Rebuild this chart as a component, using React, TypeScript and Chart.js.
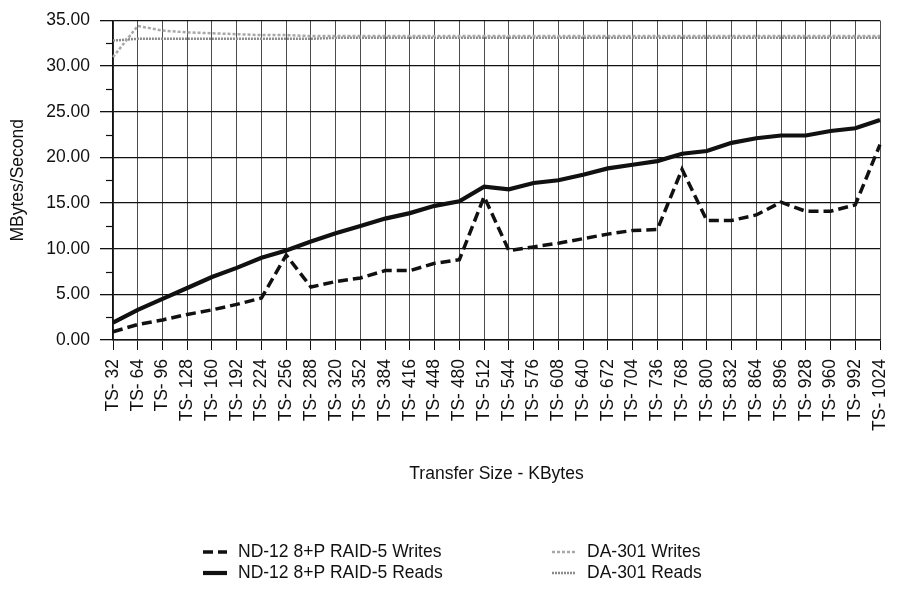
import React, { useEffect, useRef } from "react";
import { Chart, registerables } from "chart.js";

Chart.register(...registerables);

const categories = [
  "TS- 32", "TS- 64", "TS- 96", "TS- 128", "TS- 160", "TS- 192", "TS- 224", "TS- 256",
  "TS- 288", "TS- 320", "TS- 352", "TS- 384", "TS- 416", "TS- 448", "TS- 480", "TS- 512",
  "TS- 544", "TS- 576", "TS- 608", "TS- 640", "TS- 672", "TS- 704", "TS- 736", "TS- 768",
  "TS- 800", "TS- 832", "TS- 864", "TS- 896", "TS- 928", "TS- 960", "TS- 992", "TS- 1024",
];

const ndWrites = [
  0.9, 1.7, 2.2, 2.8, 3.3, 3.9, 4.6, 9.3, 5.8, 6.4, 6.8, 7.6, 7.6, 8.4, 8.8, 15.7,
  9.8, 10.2, 10.6, 11.1, 11.6, 12.0, 12.1, 18.7, 13.1, 13.1, 13.7, 15.1, 14.1, 14.1, 14.8, 21.4,
];

const ndReads = [
  1.9, 3.3, 4.5, 5.7, 6.9, 7.9, 9.0, 9.8, 10.8, 11.7, 12.5, 13.3, 13.9, 14.7, 15.2, 16.8,
  16.5, 17.2, 17.5, 18.1, 18.8, 19.2, 19.6, 20.4, 20.7, 21.6, 22.1, 22.4, 22.4, 22.9, 23.2, 24.1,
];

const daWrites = [
  31.0, 34.4, 33.9, 33.7, 33.6, 33.5, 33.4, 33.4, 33.3, 33.3, 33.3, 33.3, 33.3, 33.3, 33.3, 33.3,
  33.3, 33.3, 33.3, 33.3, 33.3, 33.3, 33.3, 33.3, 33.3, 33.3, 33.3, 33.3, 33.3, 33.3, 33.3, 33.3,
];

const daReads = [
  32.8, 33.0, 33.0, 33.0, 33.0, 33.0, 33.0, 33.0, 33.0, 33.1, 33.1, 33.1, 33.1, 33.1, 33.1, 33.1,
  33.1, 33.1, 33.1, 33.1, 33.1, 33.1, 33.1, 33.1, 33.1, 33.1, 33.1, 33.1, 33.1, 33.1, 33.1, 33.1,
];

const seriesNames = [
  "ND-12 8+P RAID-5 Writes",
  "ND-12 8+P RAID-5 Reads",
  "DA-301 Writes",
  "DA-301 Reads",
];

const yMinorTicks = [2.5, 7.5, 12.5, 17.5, 22.5, 27.5, 32.5];

const FONT = "'Liberation Sans', Arial, Helvetica, sans-serif";
const FS = 17.5;

const legendSlots = [
  { x: 203, y: 552 },
  { x: 203, y: 573 },
  { x: 552, y: 552 },
  { x: 552, y: 573 },
];

const extrasPlugin = {
  id: "extras",
  afterDraw(chart: any) {
    const ctx = chart.ctx;
    const yScale = chart.scales.y;
    ctx.save();
    ctx.strokeStyle = "#111";
    ctx.lineWidth = 1.2;
    yMinorTicks.forEach((v) => {
      const y = Math.round(yScale.getPixelForValue(v)) + 0.5;
      ctx.beginPath();
      ctx.moveTo(yScale.right - 7, y);
      ctx.lineTo(yScale.right, y);
      ctx.stroke();
    });
    ctx.restore();

    ctx.save();
    chart.data.datasets.forEach((ds: any, i: number) => {
      const slot = legendSlots[i];
      ctx.save();
      ctx.strokeStyle = ds.borderColor;
      ctx.lineWidth = ds.borderWidth;
      ctx.setLineDash(ds.borderDash || []);
      ctx.beginPath();
      ctx.moveTo(slot.x, slot.y);
      ctx.lineTo(slot.x + 24, slot.y);
      ctx.stroke();
      ctx.restore();
      ctx.fillStyle = "#111";
      ctx.font = `${FS}px ${FONT}`;
      ctx.textBaseline = "middle";
      ctx.textAlign = "left";
      ctx.fillText(ds.label, slot.x + 35, slot.y);
    });
    ctx.restore();
  },
};

export default function App() {
  const ref = useRef<HTMLCanvasElement | null>(null);

  useEffect(() => {
    if (!ref.current) return;
    const chart = new Chart(ref.current, {
      type: "line",
      data: {
        labels: categories,
        datasets: [
          {
            label: seriesNames[0],
            data: ndWrites,
            borderColor: "#111",
            borderWidth: 3.5,
            borderDash: [10, 5],
            pointRadius: 0,
            tension: 0,
            fill: false,
          },
          {
            label: seriesNames[1],
            data: ndReads,
            borderColor: "#111",
            borderWidth: 4.2,
            pointRadius: 0,
            tension: 0,
            fill: false,
          },
          {
            label: seriesNames[2],
            data: daWrites,
            borderColor: "#a8a8a8",
            borderWidth: 2.5,
            borderDash: [3, 2],
            pointRadius: 0,
            tension: 0,
            fill: false,
          },
          {
            label: seriesNames[3],
            data: daReads,
            borderColor: "#8a8a8a",
            borderWidth: 2.5,
            borderDash: [2, 1],
            pointRadius: 0,
            tension: 0,
            fill: false,
          },
        ],
      },
      options: {
        responsive: false,
        animation: false,
        layout: { padding: { left: 8, right: 14, top: 10, bottom: 107 } },
        plugins: {
          legend: { display: false },
          tooltip: { enabled: false },
        },
        scales: {
          x: {
            type: "category",
            offset: false,
            afterFit: (s: any) => {
              s.height = 145;
            },
            grid: {
              color: "rgba(0,0,0,0.7)",
              lineWidth: 1,
              tickLength: 10,
              tickColor: "#111",
            },
            border: { display: true, color: "#111", width: 1.5 },
            ticks: {
              autoSkip: false,
              maxRotation: 90,
              minRotation: 90,
              padding: 9,
              color: "#111",
              font: { family: FONT, size: FS },
            },
            title: {
              display: true,
              text: "Transfer Size - KBytes",
              color: "#111",
              padding: { top: 0, bottom: 0 },
              font: { family: FONT, size: FS },
            },
          },
          y: {
            min: 0,
            max: 35,
            afterFit: (s: any) => {
              s.width = 105;
            },
            grid: {
              color: "#111",
              lineWidth: 1.3,
              tickLength: 13,
              tickColor: "#111",
            },
            border: { display: true, color: "#111", width: 1.5 },
            ticks: {
              stepSize: 5,
              padding: 10,
              color: "#111",
              font: { family: FONT, size: FS },
              callback: (v: any) => Number(v).toFixed(2),
            },
            title: {
              display: true,
              text: "MBytes/Second",
              color: "#111",
              padding: { top: 0, bottom: 0 },
              font: { family: FONT, size: FS },
            },
          },
        },
      },
      plugins: [extrasPlugin],
    } as any);
    return () => chart.destroy();
  }, []);

  return (
    <div style={{ position: "absolute", left: 0, top: 0, width: 910, height: 592, background: "#fff" }}>
      <canvas ref={ref} width={910} height={592} style={{ display: "block" }} />
    </div>
  );
}
